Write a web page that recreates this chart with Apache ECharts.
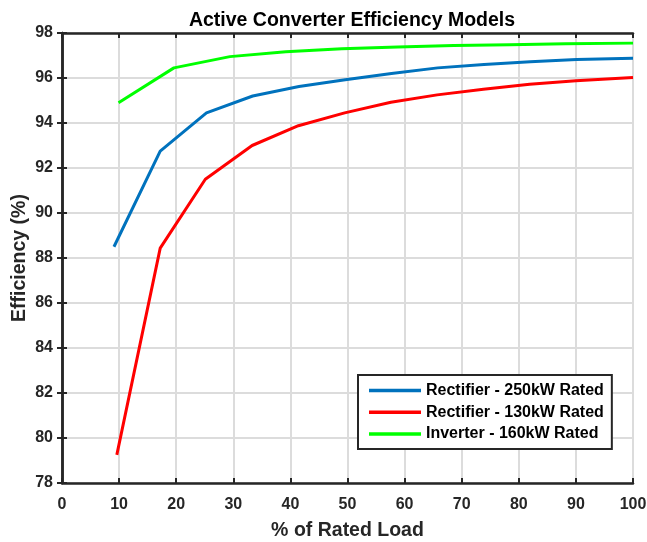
<!DOCTYPE html>
<html>
<head>
<meta charset="utf-8">
<script src="https://cdn.jsdelivr.net/npm/echarts@6/dist/echarts.min.js"></script>
<style>
  html, body { margin: 0; padding: 0; background: #fff; }
  #chart { width: 647px; height: 542px; }
</style>
</head>
<body>
<div id="chart"></div>
<script>
let FONT = 'Arial, "Liberation Sans", sans-serif';

// values
let rect250Load = [9.1, 17.2, 25.3, 33.4, 41.5, 49.6, 57.7, 65.8, 73.9, 82, 90.1, 100];
let rect250Eff = [88.5, 92.75, 94.45, 95.2, 95.62, 95.92, 96.2, 96.45, 96.6, 96.72, 96.82, 96.88];

let rect130Load = [9.6, 17.2, 25.1, 33.3, 41.4, 49.5, 57.6, 65.7, 73.8, 81.9, 90, 100];
let rect130Eff = [79.25, 88.44, 91.5, 93.0, 93.88, 94.45, 94.92, 95.25, 95.5, 95.72, 95.88, 96.02];

let invLoad = [9.9, 19.6, 29.4, 39.2, 49, 58.8, 68.6, 78.4, 88.2, 100];
let invEff = [94.9, 96.45, 96.95, 97.17, 97.3, 97.38, 97.44, 97.48, 97.52, 97.55];

let seriesNames = ['Rectifier - 250kW Rated', 'Rectifier - 130kW Rated', 'Inverter - 160kW Rated'];
let seriesColors = ['#0072BD', '#FF0000', '#00FF00'];

let pairs = (xs, ys) => xs.map((x, i) => [x, ys[i]]);
let seriesData = [
  pairs(rect250Load, rect250Eff),
  pairs(rect130Load, rect130Eff),
  pairs(invLoad, invEff)
];

let chart = echarts.init(document.getElementById('chart'));

// top / right axes just close the box, ticks pointing in
let boxAxis = {
  axisLine: { show: true, lineStyle: { color: '#262626', width: 2.5 } },
  axisTick: { show: true, inside: true, length: 5, lineStyle: { color: '#262626', width: 2 } },
  axisLabel: { show: false },
  splitLine: { show: false }
};

let option = {
  animation: false,
  title: {
    text: 'Active Converter Efficiency Models',
    left: 347, top: 6, textAlign: 'center',
    textStyle: { fontFamily: FONT, fontWeight: 'bold', fontSize: 19.5, color: '#000' }
  },
  grid: { left: 62, right: 14, top: 33, bottom: 59, outerBoundsMode: 'none' },
  legend: {
    data: seriesNames,
    orient: 'vertical',
    left: 358, top: 375,
    icon: 'rect',
    itemWidth: 52, itemHeight: 3.5, itemGap: 5.7,
    padding: [7.5, 8, 7, 11],
    backgroundColor: '#fff',
    borderColor: '#262626', borderWidth: 2, borderRadius: 0,
    textStyle: { fontFamily: FONT, fontWeight: 'bold', fontSize: 16, lineHeight: 16, color: '#000' }
  },
  xAxis: [{
    type: 'value', min: 0, max: 100, interval: 10,
    name: '% of Rated Load', nameLocation: 'middle', nameGap: 38, nameMoveOverlap: false,
    nameTextStyle: { fontFamily: FONT, fontWeight: 'bold', fontSize: 19.5, color: '#262626' },
    axisLine: { lineStyle: { color: '#262626', width: 2.5 } },
    axisTick: { inside: true, length: 5, lineStyle: { color: '#262626', width: 2 } },
    axisLabel: { margin: 14, fontFamily: FONT, fontWeight: 'bold', fontSize: 16, color: '#262626' },
    splitLine: { show: true, lineStyle: { color: '#dcdcdc', width: 2 } }
  }, Object.assign({ type: 'value', min: 0, max: 100, interval: 10, position: 'top' }, boxAxis)],
  yAxis: [{
    type: 'value', min: 78, max: 98, interval: 2,
    name: 'Efficiency (%)', nameLocation: 'middle', nameGap: 32, nameMoveOverlap: false,
    nameTextStyle: { fontFamily: FONT, fontWeight: 'bold', fontSize: 19.5, color: '#262626' },
    axisLine: { show: true, lineStyle: { color: '#262626', width: 2.5 } },
    axisTick: { show: true, inside: true, length: 5, lineStyle: { color: '#262626', width: 2 } },
    axisLabel: { margin: 9, fontFamily: FONT, fontWeight: 'bold', fontSize: 16, color: '#262626' },
    splitLine: { show: true, lineStyle: { color: '#dcdcdc', width: 2 } }
  }, Object.assign({ type: 'value', min: 78, max: 98, interval: 2, position: 'right' }, boxAxis)],
  series: seriesNames.map((name, i) => ({
    name: name,
    type: 'line',
    data: seriesData[i],
    symbol: 'none',
    color: seriesColors[i],
    lineStyle: { width: 3, color: seriesColors[i] },
    z: 3
  }))
};

chart.setOption(option);
</script>
</body>
</html>
